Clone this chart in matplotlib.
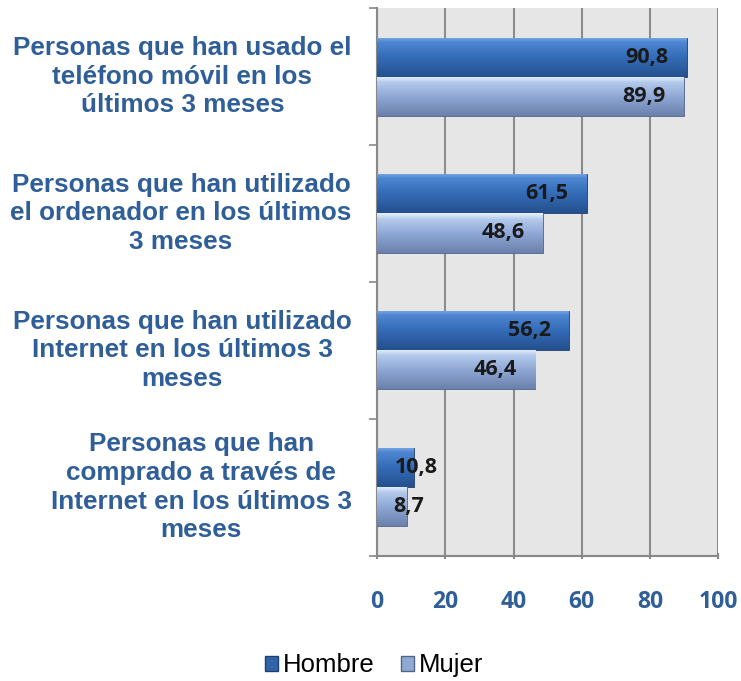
import numpy as np
import matplotlib.pyplot as plt
from matplotlib.colors import LinearSegmentedColormap
from matplotlib.patches import Patch

categorias = [
    "Personas que han usado el\nteléfono móvil en los\núltimos 3 meses",
    "Personas que han utilizado\nel ordenador en los últimos\n3 meses",
    "Personas que han utilizado\nInternet en los últimos 3\nmeses",
    "Personas que han\ncomprado a través de\nInternet en los últimos 3\nmeses",
]
hombre = [90.8, 61.5, 56.2, 10.8]
mujer = [89.9, 48.6, 46.4, 8.7]
series = ["Hombre", "Mujer"]
xticks = [0, 20, 40, 60, 80, 100]

azul_txt = "#2f5e98"

fig = plt.figure(figsize=(7.41, 6.81), dpi=100)
ax = fig.add_axes([0.509, 0.184, 0.460, 0.804])
ax.set_facecolor("#e6e6e6")

y = np.arange(len(categorias))
h = 0.285

# top -> bottom of each bar
cmap_h = LinearSegmentedColormap.from_list("h", [(0, "#7aa8e6"), (0.12, "#4f86d2"),
                                                 (0.5, "#356cb8"), (1, "#24508e")])
cmap_m = LinearSegmentedColormap.from_list("m", [(0, "#e6f1fd"), (0.15, "#b4caec"),
                                                 (0.5, "#90a9d6"), (1, "#6b80ad")])

bars_h = ax.barh(y - h / 2, hombre, height=h, color="#2f64a8", edgecolor="#1e3f6e", linewidth=0.6, zorder=3)
bars_m = ax.barh(y + h / 2, mujer, height=h, color="#8fa9d4", edgecolor="#4f6288", linewidth=0.6, zorder=3)

grad = np.linspace(0, 1, 64).reshape(-1, 1)
for bars, cmap in [(bars_h, cmap_h), (bars_m, cmap_m)]:
    for b in bars:
        x0, y0, w, hh = b.get_x(), b.get_y(), b.get_width(), b.get_height()
        im = ax.imshow(grad, cmap=cmap, aspect="auto", extent=(x0, x0 + w, y0 + hh, y0),
                       origin="upper", zorder=3.5)
        im.set_clip_path(b)

for vals, off in [(hombre, -h / 2), (mujer, h / 2)]:
    for i, v in enumerate(vals):
        txt = f"{v:.1f}".replace(".", ",")
        if v > 20:
            ax.text(v - 5.3, i + off, txt, ha="right", va="center", fontsize=15.5,
                    fontweight="bold", color="#1a1a1a", family="Open Sans", zorder=5)
        else:
            ax.text(v + 0.6, i + off, txt, ha="center", va="center", fontsize=15.5,
                    fontweight="bold", color="#1a1a1a", family="Open Sans", zorder=5)

ax.set_xlim(0, 100)
ax.set_ylim(len(categorias) - 0.5, -0.5)
ax.set_xticks(xticks)
ax.set_xticklabels([str(t) for t in xticks], fontsize=16.5, fontweight="bold", color=azul_txt,
                   family="Open Sans")
ax.tick_params(axis="x", length=5, color="#888888", width=1.5, pad=22, direction="inout")
ax.grid(axis="x", color="#8c8c8c", linewidth=1.5, zorder=0)

ax.set_yticks(np.arange(len(categorias) + 1) - 0.5)
ax.set_yticklabels([])
ax.tick_params(axis="y", length=6, color="#888888", width=1.2, direction="out")

for s in ["top", "right"]:
    ax.spines[s].set_visible(False)
ax.spines["left"].set_color("#888888")
ax.spines["left"].set_linewidth(1.5)
ax.spines["bottom"].set_color("#888888")
ax.spines["bottom"].set_linewidth(1.5)

for i, c in enumerate(categorias):
    ax.text(-0.075, 1 - (i + 0.5) / len(categorias), c, transform=ax.transAxes,
            ha="right", va="center", multialignment="center", fontsize=18.8,
            fontweight="bold", color=azul_txt, family="Liberation Sans", linespacing=1.25)

handles = [Patch(facecolor="#2f64a8", edgecolor="#1e3f6e"), Patch(facecolor="#8fa9d4", edgecolor="#4f6288")]
fig.legend(handles, series, loc="center", bbox_to_anchor=(0.505, 0.023), ncol=2, frameon=False,
           prop={"family": "Liberation Sans", "size": 18.5}, handlelength=0.5, handleheight=0.5,
           handletextpad=0.2, columnspacing=1.0)

fig.savefig("out.png", dpi=100)
